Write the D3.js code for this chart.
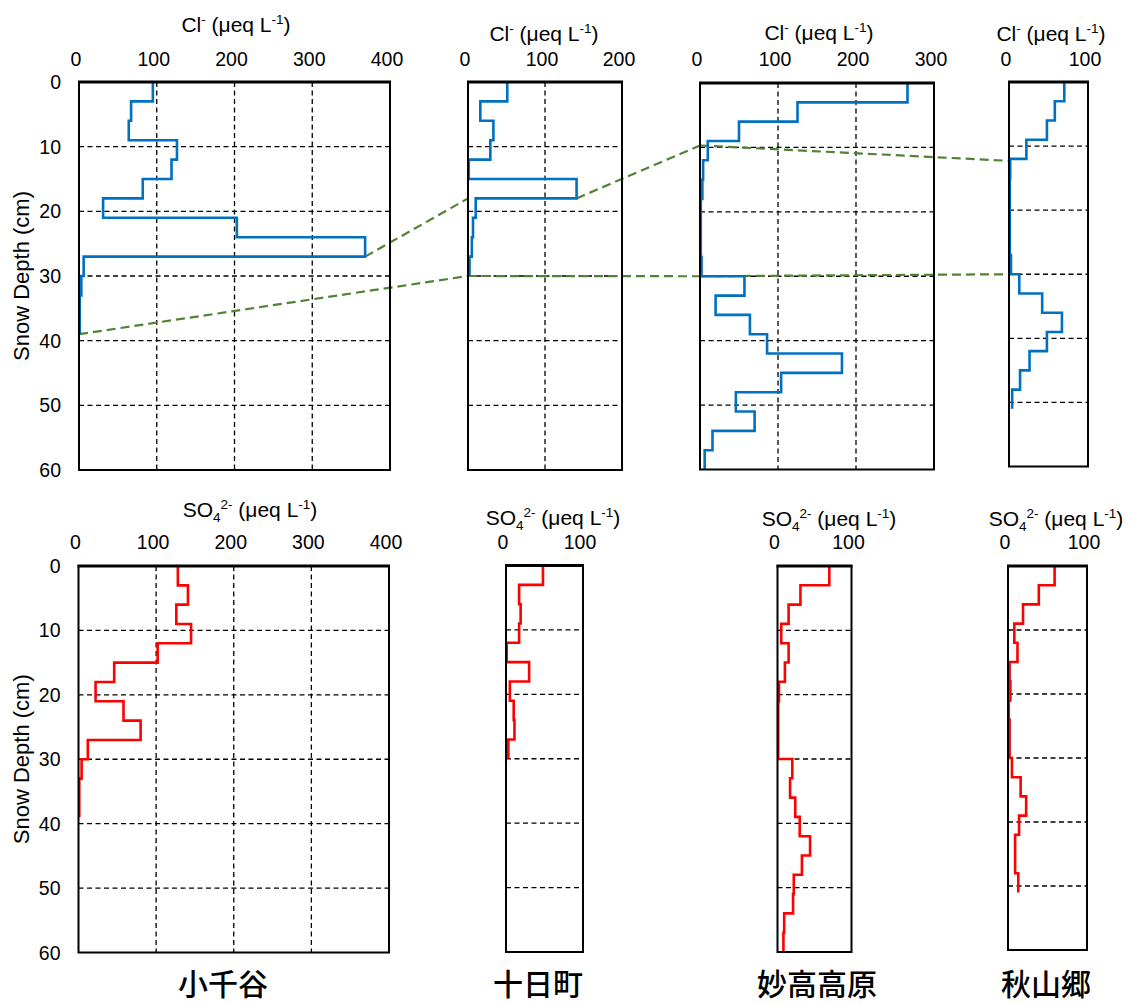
<!DOCTYPE html>
<html>
<head>
<meta charset="utf-8">
<script src="https://cdn.jsdelivr.net/npm/d3@7"></script>
<style>
    body { margin: 0; background: #fff; }
    svg { display: block; }
    text { font-family: Arial, 'Liberation Sans', sans-serif; fill: #000; white-space: pre; }
    .site { font-family: 'Noto Sans CJK JP', sans-serif; font-weight: 500; }
</style>
</head>
<body>
<svg id="chart" width="1134" height="1005"></svg>
<script>
const sites = ['小千谷', '十日町', '妙高高原', '秋山郷'];
const layerCm = 3;
const depthTicks = [0, 10, 20, 30, 40, 50, 60];
const concStep = 100;
const clMax = [400, 200, 300, 100];
const so4Max = [400, 100, 100, 100];

// values per 3 cm layer, from the surface down
const clOjiya = [95, 67, 64, 126, 119, 82, 31, 203, 368, 6, 3, 1, 1];
const clTokamachi = [51, 16, 33, 29, 1, 141, 10, 6.5, 5, 2];
const clMyoko = [266, 125, 50, 10, 4, 3, 1, 1, 1, 2, 57, 20, 64, 86, 182, 104, 46, 70, 16, 6];
const clAkiyama = [70, 58, 48, 22, 1.5, 1, 1, 1, 1, 2.5, 13, 42, 67, 48, 26, 14, 4];

const so4Ojiya = [128, 141, 126, 145, 102, 46, 22, 58, 80, 12, 4, 1, 1];
const so4Tokamachi = [48, 17, 19, 17, 1, 30, 5, 10, 11, 3];
const so4Myoko = [70, 31, 15, 5, 15, 10, 2, 1, 1, 1, 20, 17, 24, 30, 44, 33, 22, 21, 9, 8];
const so4Akiyama = [59, 39, 19, 8, 12, 2, 3, 1, 2, 2, 5, 16, 23, 14, 9, 9, 13];

// green connectors between Cl panels: [panel, value, depth]
const linkFrom = [[0, 368, 27], [1, 141, 18], [2, 0, 9.7], [0, 0, 39], [1, 0, 30], [2, 0, 30]];
const linkTo = [[1, 0, 18], [2, 0, 9.7], [3, 0, 12.3], [1, 0, 30], [2, 0, 30], [3, 0, 30]];

const clSeries = [clOjiya, clTokamachi, clMyoko, clAkiyama];
const so4Series = [so4Ojiya, so4Tokamachi, so4Myoko, so4Akiyama];

// layout
const topBoxes = [
    {x0: 79, x1: 390, y0: 82, y1: 470, tx: 236, tb: 32},
    {x0: 468, x1: 622, y0: 82, y1: 470, tx: 544, tb: 40.5},
    {x0: 700, x1: 934, y0: 83, y1: 469.5, tx: 819, tb: 39.5},
    {x0: 1009, x1: 1088, y0: 82, y1: 466.5, tx: 1051, tb: 40.5}
];
const bottomBoxes = [
    {x0: 78.5, x1: 389, y0: 566, y1: 952.5, tx: 250, tb: 516.5},
    {x0: 506, x1: 583, y0: 565.5, y1: 952, tx: 553, tb: 525},
    {x0: 777.5, x1: 851.5, y0: 566, y1: 952, tx: 829, tb: 525.5},
    {x0: 1008, x1: 1087, y0: 566, y1: 950, tx: 1056, tb: 526}
];
const siteX = [223, 538, 817, 1046];

const svg = d3.select('#chart');
const gridLayer = svg.append('g');
const linkLayer = svg.append('g');
const lineLayer = svg.append('g');
const frameLayer = svg.append('g');

function makePanel(box, xmax) {
    return {
        box: box,
        x: d3.scaleLinear().domain([0, xmax]).range([box.x0, box.x1]),
        y: d3.scaleLinear().domain([0, 60]).range([box.y0, box.y1]),
        xmax: xmax
    };
}

function addTitle(text, kind) {
    let sup = (s, dy) => text.append('tspan').attr('font-size', 13.5).attr('dy', dy).text(s);
    if (kind === 'cl') {
        text.append('tspan').text('Cl');
        sup('-', -8);
        text.append('tspan').attr('dy', 8).text(' (μeq L');
        sup('-1', -8);
        text.append('tspan').attr('dy', 8).text(')');
    } else {
        text.append('tspan').text('SO');
        sup('4', 5);
        sup('2-', -13);
        text.append('tspan').attr('dy', 8).text(' (μeq L');
        sup('-1', -8);
        text.append('tspan').attr('dy', 8).text(')');
    }
}

function drawPanel(p, kind, tickBase, showDepth) {
    let b = p.box;
    let xTicks = d3.range(0, p.xmax + 1, concStep);

    gridLayer.append('rect')
        .attr('x', b.x0).attr('y', b.y0)
        .attr('width', b.x1 - b.x0).attr('height', b.y1 - b.y0)
        .attr('fill', '#fff');

    gridLayer.selectAll(null)
        .data(depthTicks.filter(d => d > 0 && d < 60))
        .join('line')
        .attr('x1', b.x0).attr('x2', b.x1)
        .attr('y1', d => p.y(d)).attr('y2', d => p.y(d))
        .attr('stroke', '#000').attr('stroke-width', 1.3)
        .attr('stroke-dasharray', '5,3.5');

    gridLayer.selectAll(null)
        .data(xTicks.filter(d => d > 0 && d < p.xmax))
        .join('line')
        .attr('x1', d => p.x(d)).attr('x2', d => p.x(d))
        .attr('y1', b.y0).attr('y2', b.y1)
        .attr('stroke', '#000').attr('stroke-width', 1.3)
        .attr('stroke-dasharray', '5,3.5');

    frameLayer.append('rect')
        .attr('x', b.x0).attr('y', b.y0)
        .attr('width', b.x1 - b.x0).attr('height', b.y1 - b.y0)
        .attr('fill', 'none').attr('stroke', '#000').attr('stroke-width', 2);
    frameLayer.append('line')
        .attr('x1', b.x0 - 1).attr('x2', b.x1 + 1)
        .attr('y1', b.y0).attr('y2', b.y0)
        .attr('stroke', '#000').attr('stroke-width', 3.2);

    frameLayer.selectAll(null)
        .data(xTicks)
        .join('text')
        .attr('x', d => p.x(d) - 3)
        .attr('y', tickBase)
        .attr('text-anchor', 'middle')
        .attr('font-size', 19.5)
        .text(d => d);

    let title = frameLayer.append('text')
        .attr('x', b.tx).attr('y', b.tb)
        .attr('text-anchor', 'middle')
        .attr('font-size', 21);
    addTitle(title, kind);

    if (showDepth) {
        frameLayer.selectAll(null)
            .data(depthTicks)
            .join('text')
            .attr('x', b.x0 - 18)
            .attr('y', d => p.y(d) + 7)
            .attr('text-anchor', 'end')
            .attr('font-size', 19.5)
            .text(d => d);

        frameLayer.append('text')
            .attr('transform', `translate(29, ${(b.y0 + b.y1) / 2}) rotate(-90)`)
            .attr('text-anchor', 'middle')
            .attr('font-size', 22)
            .text('Snow Depth (cm)');
    }
}

function stepPoints(values) {
    let pts = [];
    values.forEach((v, i) => {
        pts.push([v, i * layerCm]);
        pts.push([v, (i + 1) * layerCm]);
    });
    return pts;
}

function drawProfile(p, values, color) {
    let line = d3.line()
        .x(d => p.x(d[0]))
        .y(d => p.y(d[1]));
    lineLayer.append('path')
        .datum(stepPoints(values))
        .attr('d', line)
        .attr('fill', 'none')
        .attr('stroke', color)
        .attr('stroke-width', 2.6)
        .attr('stroke-linejoin', 'miter');
}

let clPanels = topBoxes.map((b, i) => makePanel(b, clMax[i]));
let so4Panels = bottomBoxes.map((b, i) => makePanel(b, so4Max[i]));

clPanels.forEach((p, i) => drawPanel(p, 'cl', 65.5, i === 0));
so4Panels.forEach((p, i) => drawPanel(p, 'so4', 549, i === 0));

linkLayer.selectAll('.link')
    .data(d3.zip(linkFrom, linkTo))
    .join('line')
    .attr('class', 'link')
    .attr('x1', d => clPanels[d[0][0]].x(d[0][1]))
    .attr('y1', d => clPanels[d[0][0]].y(d[0][2]))
    .attr('x2', d => clPanels[d[1][0]].x(d[1][1]))
    .attr('y2', d => clPanels[d[1][0]].y(d[1][2]))
    .attr('stroke', '#548235')
    .attr('stroke-width', 2.2)
    .attr('stroke-dasharray', '9,5');

clPanels.forEach((p, i) => drawProfile(p, clSeries[i], '#0070C0'));
so4Panels.forEach((p, i) => drawProfile(p, so4Series[i], '#FF0000'));

svg.selectAll('.site')
    .data(sites)
    .join('text')
    .attr('class', 'site')
    .attr('x', (d, i) => siteX[i])
    .attr('y', 995)
    .attr('text-anchor', 'middle')
    .attr('font-size', 30)
    .text(d => d);
</script>
</body>
</html>
